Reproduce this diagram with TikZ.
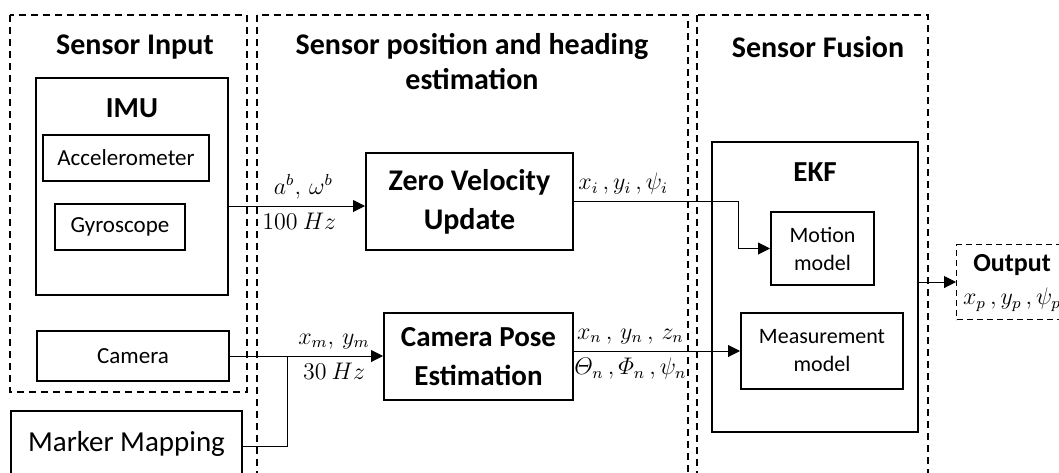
\documentclass[tikz,border=0pt]{standalone}
\usepackage{amsmath}
\usepackage{fontspec}
\setmainfont{Carlito}
\usetikzlibrary{arrows.meta, calc}

\begin{document}
\begin{tikzpicture}[x=0.5pt, y=-0.5pt,
		panel/.style={draw, line width=1pt, dash pattern=on 3.5pt off 2.5pt},
		box/.style={draw, line width=1pt, align=center, inner sep=0pt},
		subbox/.style={draw, line width=0.7pt, align=center, inner sep=0pt},
		title/.style={font=\fontsize{15}{17.5}\selectfont\bfseries, align=center},
		heavy/.style={font=\fontsize{14.5}{19.5}\selectfont\bfseries},
		plain/.style={font=\fontsize{11.5}{14}\selectfont},
		sig/.style={font=\fontsize{11.5}{13}\selectfont},
		wire/.style={line width=0.5pt},
		arrow/.style={line width=0.5pt, -{Triangle[length=6pt,width=6pt]}}]

			\useasboundingbox (0,0) rectangle (1059,472);
			\clip (0,0) rectangle (1059,472);

			\begin{scope}
				\draw[panel] (10,15) rectangle (247,392);
				\draw[panel] (257,15) rectangle (688,520);
				\draw[panel] (697,15) rectangle (928,520);

				\node[title] (inputtitle) at (135,47) {Sensor Input};
				\node[title] (esttitle) at (472,62) {Sensor position and heading\\estimation};
				\node[title] (fusiontitle) at (818,47) {Sensor Fusion};
			\end{scope}

			\begin{scope}
				\node[box, minimum width=96pt, minimum height=108.5pt] (imu) at (132,186.5) {};
				\node[heavy] (imutitle) at (132,108) {IMU};
				\node[subbox, font=\fontsize{11.5}{14}\selectfont, minimum width=83pt, minimum height=23pt] (acc) at (126,158) {Accelerometer};
				\node[subbox, font=\fontsize{11.5}{14}\selectfont, minimum width=65pt, minimum height=23pt] (gyro) at (120,227) {Gyroscope};
				\node[box, plain, minimum width=96pt, minimum height=25pt] (camera) at (133,356) {Camera};
				\node[box, font=\fontsize{14.5}{17}\selectfont, anchor=base, minimum width=115.5pt, text height=20pt, text depth=30pt] (marker) at (126.5,451) {Marker Mapping};
			\end{scope}

			\begin{scope}
				\node[box, heavy, font=\fontsize{15}{19.5}\selectfont\bfseries, minimum width=103.5pt, minimum height=48.5pt] (zvu) at (469.5,201.5) {Zero Velocity\\Update};
				\node[box, heavy, minimum width=94.5pt, minimum height=43.5pt] (cpe) at (478.5,356.5) {Camera Pose\\Estimation};
			\end{scope}

			\begin{scope}
				\node[box, minimum width=103pt, minimum height=145pt] (ekf) at (815,287) {};
				\node[heavy] (ekftitle) at (815,172) {EKF};
				\node[box, font=\fontsize{11}{14}\selectfont, minimum width=51.5pt, minimum height=36.5pt] (motion) at (822.5,248.5) {Motion\\model};
				\node[box, font=\fontsize{11}{14}\selectfont, minimum width=81pt, minimum height=38pt] (meas) at (822,351) {Measurement\\model};

				\node[draw, line width=0.7pt, dash pattern=on 3pt off 2pt, anchor=west, minimum width=60pt, minimum height=37.5pt] (output) at (956,282) {};
				\node[font=\fontsize{13}{15}\selectfont\bfseries] (outtitle) at (1012,265) {Output};
				\node[sig] (outsig) at (1012,300) {$x_p\,,y_p\,,\psi_p$};
			\end{scope}

			\coordinate (imuout) at (228,206);
			\coordinate (junction) at (287,356);

			\draw[arrow] (imuout) -- node[sig, above, pos=0.55] (imusig) {$a^b,\,\omega^b$} node[sig, below, pos=0.52] (imurate) {$100\ Hz$} (imuout -| zvu.west);
			\draw[arrow] (zvu.east) -- node[sig, above, pos=0.3] (zvusig) {$x_i\,,y_i\,,\psi_i$} ++(164,0) |- (motion.west);
			\draw[arrow] (camera.east) -- node[sig, above, pos=0.68] (camsig) {$x_m,\,y_m$} node[sig, below, pos=0.68] (camrate) {$30\ Hz$} (camera.east -| cpe.west);
			\draw[wire] (marker.mid east) -| (junction);
			\draw[arrow] (cpe.east |- meas.west) -- node[sig, above, pos=0.34] (cpesig) {$x_n\,,\,y_n\,,\,z_n$} node[sig, below, pos=0.34] (cpeangle) {$\varTheta_n\,,\varPhi_n\,,\psi_n$} (meas.west);
			\draw[arrow] (ekf.east |- output.west) -- (output.west);
		\end{tikzpicture}
\end{document}
